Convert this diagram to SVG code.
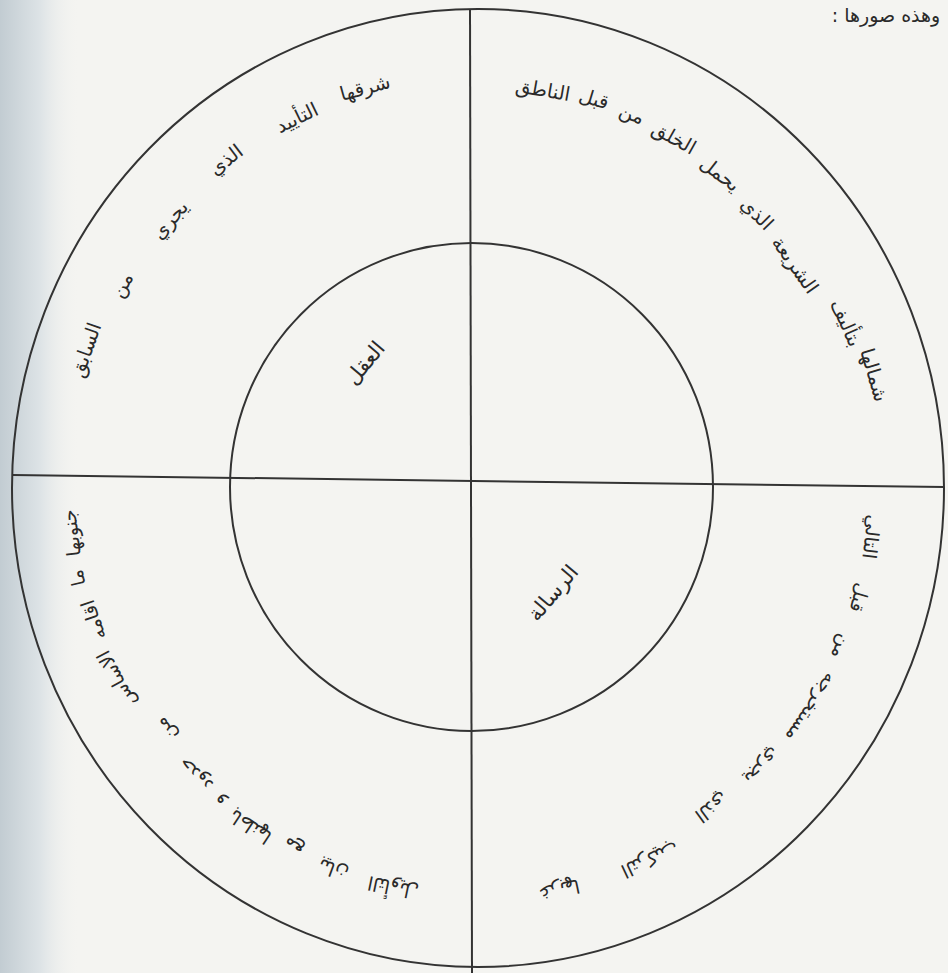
<svg xmlns="http://www.w3.org/2000/svg" width="948" height="973" viewBox="0 0 948 973">
<style>
.ar{font-family:"DejaVu Sans","Noto Sans",sans-serif;fill:#2a2a2a;text-anchor:middle;dominant-baseline:central}
.w{font-size:19.5px}
.h{font-size:19px}
.ln{stroke:#333;stroke-width:2;fill:none}
</style>
<defs>
<linearGradient id="edge" x1="0" y1="0" x2="1" y2="0">
<stop offset="0" stop-color="#c2ccd2"/>
<stop offset="0.5" stop-color="#dde3e6"/>
<stop offset="1" stop-color="#f4f4f1" stop-opacity="0"/>
</linearGradient>
</defs>
<rect width="948" height="973" fill="#f4f4f1"/>
<rect width="80" height="973" fill="url(#edge)"/>

<g id="header">
<text class="ar" x="886" y="15" direction="rtl" style="font-size:19px">وهذه صورها :</text>
</g>

<g id="outer-ring">
<ellipse class="ln" cx="478" cy="488" rx="466" ry="479"/>
</g>

<g id="inner-circle">
<ellipse class="ln" cx="471.5" cy="487" rx="241.5" ry="244"/>
</g>

<g id="connectors">
<line class="ln" x1="470" y1="9" x2="472" y2="973"/>
<line class="ln" x1="13" y1="475" x2="944" y2="487"/>
</g>

<g id="inner-labels">
<text class="ar" style="font-size:21px" transform="translate(365,363) rotate(-50)">العقل</text>
<text class="ar" style="font-size:21px" transform="translate(553,593) rotate(-50)">الرسالة</text>
</g>

<g id="quadrant-east">
<text class="ar w" transform="translate(365,88) rotate(-15.5)">شرقها</text>
<text class="ar w" transform="translate(297,118) rotate(-25.9)">التأييد</text>
<text class="ar w" transform="translate(226,160) rotate(-37.4)">الذي</text>
<text class="ar w" transform="translate(170,220) rotate(-48.9)">يجري</text>
<text class="ar w" transform="translate(122,285) rotate(-60.3)">من</text>
<text class="ar w" transform="translate(86,350) rotate(-70.6)">السابق</text>
</g>

<g id="quadrant-north">
<text class="ar w" transform="translate(543,90) rotate(9.9)">الناطق</text>
<text class="ar w" transform="translate(594,99) rotate(16.9)">قبل</text>
<text class="ar w" transform="translate(632,114) rotate(22.6)">من</text>
<text class="ar w" transform="translate(674,138) rotate(29.4)">الخلق</text>
<text class="ar w" transform="translate(720,174) rotate(37.8)">يحمل</text>
<text class="ar w" transform="translate(757,214) rotate(45.7)">الذي</text>
<text class="ar w" transform="translate(795,265) rotate(54.8)">الشريعة</text>
<text class="ar w" transform="translate(846,323) rotate(66.1)">بتأليف</text>
<text class="ar w" transform="translate(874,375) rotate(73.6)">شمالها</text>
</g>

<g id="quadrant-west">
<text class="ar h" transform="translate(560,890) rotate(168.2)">غربها</text>
<text class="ar h" transform="translate(650,860) rotate(155)">التركيب</text>
<text class="ar h" transform="translate(712,808) rotate(143.7)">الذي</text>
<text class="ar h" transform="translate(763,767) rotate(134.3)">يجري</text>
<text class="ar h" transform="translate(812,708) rotate(123.3)">مستخرجه</text>
<text class="ar h" transform="translate(842,647) rotate(113.6)">من</text>
<text class="ar h" transform="translate(860,598) rotate(106.1)">قبل</text>
<text class="ar h" transform="translate(872,537) rotate(97.2)">التالي</text>
</g>

<g id="quadrant-south">
<text class="ar h" transform="translate(71,533) rotate(262.9)">جنوبها</text>
<text class="ar h" transform="translate(77,578) rotate(256.5)">ما</text>
<text class="ar h" transform="translate(93,620) rotate(251.2)">اقامه</text>
<text class="ar h" transform="translate(116,679) rotate(242)">الاساس</text>
<text class="ar h" transform="translate(165,730) rotate(232)">من</text>
<text class="ar h" transform="translate(195,775) rotate(224.3)">حدود</text>
<text class="ar h" transform="translate(218,803) rotate(219.2)">و</text>
<text class="ar h" transform="translate(250,827) rotate(213.6)">باطنها</text>
<text class="ar h" transform="translate(293,848) rotate(206.9)">مع</text>
<text class="ar h" transform="translate(333,870) rotate(200.5)">بيان</text>
<text class="ar h" transform="translate(393,888) rotate(191.7)">التأويل</text>
</g>
</svg>
